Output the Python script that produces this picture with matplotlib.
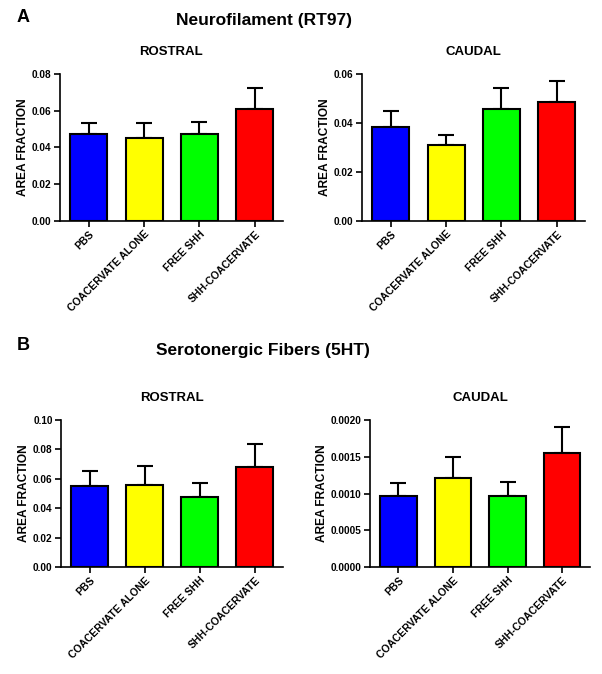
import matplotlib
matplotlib.use("Agg")
import matplotlib.pyplot as plt

plt.rcParams['font.family'] = ['Liberation Sans', 'DejaVu Sans']
plt.rcParams['font.weight'] = 'bold'

groups = ['PBS', 'COACERVATE ALONE', 'FREE SHH', 'SHH-COACERVATE']
colors = ['#0000FF', '#FFFF00', '#00FF00', '#FF0000']

# Neurofilament (RT97)
nf_rostral_mean = [0.0473, 0.0453, 0.0471, 0.0609]
nf_rostral_sem = [0.0058, 0.0078, 0.0066, 0.0115]
nf_caudal_mean = [0.0385, 0.0308, 0.0458, 0.0484]
nf_caudal_sem = [0.0062, 0.0041, 0.0086, 0.0086]

# Serotonergic fibers (5HT)
ht_rostral_mean = [0.0550, 0.0557, 0.0475, 0.0682]
ht_rostral_sem = [0.0102, 0.0129, 0.0095, 0.0154]
ht_caudal_mean = [0.00097, 0.00121, 0.00097, 0.00155]
ht_caudal_sem = [0.00017, 0.00028, 0.00018, 0.00035]

W, H = 602, 674


def add_panel(rect_px, title, means, sems, ymax, yticks, fmt):
    left, top, right, bottom = rect_px
    ax = fig.add_axes([left / W, 1 - bottom / H, (right - left) / W, (bottom - top) / H])
    x = list(range(len(groups)))
    ax.bar(x, means, width=0.67, color=colors, edgecolor='black', linewidth=1.5, zorder=2)
    # only the upper half of the error bar is shown
    ax.errorbar(x, means, yerr=[[0] * len(sems), sems], fmt='none', ecolor='black',
                elinewidth=1.5, capsize=5.5, capthick=1.5, zorder=1)
    ax.set_xlim(-0.52, 3.51)
    ax.set_ylim(0, ymax)
    ax.set_yticks(yticks)
    ax.set_yticklabels([fmt.format(v) for v in yticks], fontsize=7.2, fontweight='bold')
    ax.set_xticks(x)
    ax.set_xticklabels(groups, rotation=45, ha='right', rotation_mode='anchor',
                       fontsize=7.5, fontweight='bold')
    ax.spines['top'].set_visible(False)
    ax.spines['right'].set_visible(False)
    ax.spines['left'].set_linewidth(1.2)
    ax.spines['bottom'].set_linewidth(1.2)
    ax.tick_params(axis='both', direction='out', length=4, width=1.2, pad=2)
    ax.set_ylabel('AREA FRACTION', fontsize=8.6, fontweight='bold', labelpad=2)
    ax.set_title(title, fontsize=9.5, fontweight='bold', pad=14)
    return ax


fig = plt.figure(figsize=(W / 100, H / 100), dpi=100)

add_panel((60, 74, 283, 220.7), 'ROSTRAL', nf_rostral_mean, nf_rostral_sem,
          0.08, [0, 0.02, 0.04, 0.06, 0.08], '{:.2f}')
add_panel((362, 74, 585, 220.7), 'CAUDAL', nf_caudal_mean, nf_caudal_sem,
          0.06, [0, 0.02, 0.04, 0.06], '{:.2f}')
add_panel((61, 420, 283, 567), 'ROSTRAL', ht_rostral_mean, ht_rostral_sem,
          0.10, [0, 0.02, 0.04, 0.06, 0.08, 0.10], '{:.2f}')
add_panel((370, 420, 590, 567), 'CAUDAL', ht_caudal_mean, ht_caudal_sem,
          0.002, [0, 0.0005, 0.001, 0.0015, 0.002], '{:.4f}')

fig.text(23 / W, 1 - 17 / H, 'A', fontsize=13, fontweight='bold', ha='center', va='center')
fig.text(264 / W, 1 - 20 / H, 'Neurofilament (RT97)', fontsize=12.5, fontweight='bold',
         ha='center', va='center')
fig.text(23 / W, 1 - 345 / H, 'B', fontsize=13, fontweight='bold', ha='center', va='center')
fig.text(263 / W, 1 - 350 / H, 'Serotonergic Fibers (5HT)', fontsize=12.5, fontweight='bold',
         ha='center', va='center')

fig.savefig('out.png', dpi=100)
